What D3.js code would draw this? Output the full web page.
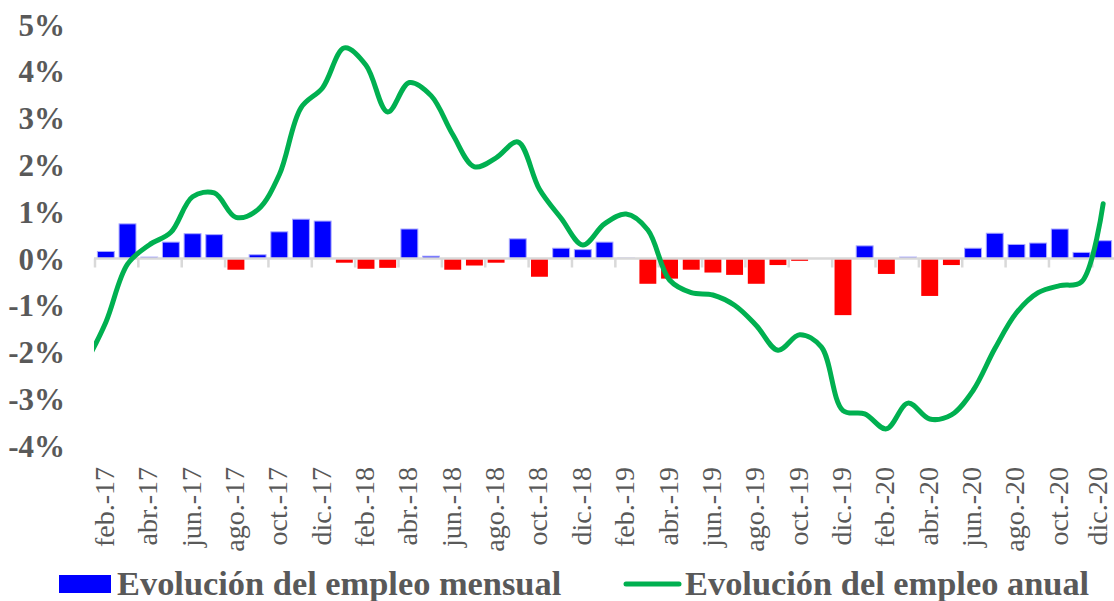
<!DOCTYPE html>
<html><head><meta charset="utf-8">
<script src="https://cdn.jsdelivr.net/npm/d3@7"></script>
<style>body{margin:0;background:#fff}</style>
</head><body>
<svg id="c" width="1114" height="601"></svg>
<script>
const months = ["ene.-17","feb.-17","mar.-17","abr.-17","may.-17","jun.-17","jul.-17","ago.-17","sep.-17","oct.-17","nov.-17","dic.-17",
"ene.-18","feb.-18","mar.-18","abr.-18","may.-18","jun.-18","jul.-18","ago.-18","sep.-18","oct.-18","nov.-18","dic.-18",
"ene.-19","feb.-19","mar.-19","abr.-19","may.-19","jun.-19","jul.-19","ago.-19","sep.-19","oct.-19","nov.-19","dic.-19",
"ene.-20","feb.-20","mar.-20","abr.-20","may.-20","jun.-20","jul.-20","ago.-20","sep.-20","oct.-20","nov.-20","dic.-20"];
// monthly employment change (%), no bar for ene.-17
const mensual = [null,0.15,0.74,0.03,0.35,0.53,0.51,-0.24,0.08,0.57,0.84,0.80,
-0.09,-0.22,-0.20,0.63,0.05,-0.24,-0.15,-0.09,0.42,-0.39,0.22,0.19,
0.35,0.01,-0.54,-0.43,-0.24,-0.30,-0.35,-0.54,-0.14,-0.05,0.00,-1.21,
0.27,-0.33,0.03,-0.80,-0.14,0.22,0.54,0.30,0.33,0.63,0.13,0.38];
// annual employment change (%)
const anual = [-2.30,-1.36,-0.12,0.29,0.56,1.32,1.40,0.88,1.04,1.79,3.22,3.65,
4.50,4.13,3.13,3.76,3.48,2.65,1.96,2.15,2.49,1.48,0.86,0.29,
0.74,0.95,0.61,-0.46,-0.73,-0.78,-1.00,-1.43,-1.96,-1.63,-1.89,-3.25,
-3.32,-3.64,-3.09,-3.43,-3.34,-2.82,-1.93,-1.16,-0.73,-0.58,-0.50,1.17];
const yTicks = [-4,-3,-2,-1,0,1,2,3,4,5];
const xTickLabels = months.filter((m,i)=>i%2===1);
const legendLabels = ["Evolución del empleo mensual","Evolución del empleo anual"];

const svg = d3.select("#c");
const left = 95, right = 1114;
const step = (right-left)/47;
const x = d3.scaleBand().domain(months).range([left-step, right]).paddingInner(0.22).paddingOuter(0.11);
const y0 = 258.5, pp = 46.8;
const y = d3.scaleLinear().domain([-4,5]).range([y0+4*pp, y0-5*pp]);
const grey = "#595959";
const font = "'Liberation Serif','Times New Roman',serif";

// bars
svg.append("g").selectAll("rect")
  .data(months.map((m,i)=>({m, v:mensual[i]})).filter(d=>d.v!==null))
  .join("rect")
  .attr("x", d=>x(d.m))
  .attr("width", x.bandwidth())
  .attr("y", d=>y(Math.max(0,d.v)))
  .attr("height", d=>Math.abs(y(d.v)-y(0)))
  .attr("fill", d=>d.v<0?"#ff0000":"#0000ff")
  .attr("stroke", d=>d.v<0?"none":"#a8a8ff")
  .attr("stroke-width", 1);

// x axis line and ticks
const ax = svg.append("g").attr("stroke","#d9d9d9").attr("stroke-width",2.5);
ax.append("line").attr("x1",left-1).attr("x2",right).attr("y1",y(0)).attr("y2",y(0));
ax.selectAll("line.t").data(xTickLabels).join("line").attr("class","t")
  .attr("x1", d=>x(d)-step*0.11).attr("x2", d=>x(d)-step*0.11)
  .attr("y1", y(0)).attr("y2", y(0)+9);

// line
svg.append("clipPath").attr("id","clip").append("rect")
  .attr("x",left-1).attr("y",0).attr("width",right-left+1).attr("height",601);
const line = d3.line()
  .x((d,i)=>x(months[i])+x.bandwidth()/2)
  .y(d=>y(d))
  .curve(d3.curveCatmullRom.alpha(0.5));
svg.append("path").attr("d", line(anual)).attr("clip-path","url(#clip)")
  .attr("fill","none").attr("stroke","#00b050").attr("stroke-width",5)
  .attr("stroke-linecap","round").attr("stroke-linejoin","round");

// y labels
svg.append("g").selectAll("text").data(yTicks).join("text")
  .attr("x",65).attr("y",d=>y(d)).attr("dy","0.36em")
  .attr("text-anchor","end").attr("font-family",font).attr("font-weight","bold")
  .attr("font-size",31).attr("fill",grey).text(d=>d+"%");

// x labels (last one kept inside the canvas)
svg.append("g").selectAll("text").data(xTickLabels).join("text")
  .attr("transform", d=>`translate(${Math.min(x(d)+x.bandwidth()/2+8, right-7)},467) rotate(-90)`)
  .attr("text-anchor","end").attr("font-family",font)
  .attr("font-size",28).attr("fill",grey).text(d=>d);

// legend
const lg = svg.append("g").attr("font-family",font).attr("font-weight","bold").attr("font-size",34.4).attr("fill",grey);
svg.append("rect").attr("x",59).attr("y",575).attr("width",52).attr("height",18).attr("fill","#0000ff");
lg.append("text").attr("x",117).attr("y",595).text(legendLabels[0]);
svg.append("line").attr("x1",626).attr("x2",679).attr("y1",584).attr("y2",584)
  .attr("stroke","#00b050").attr("stroke-width",5).attr("stroke-linecap","round");
lg.append("text").attr("x",685).attr("y",595).text(legendLabels[1]);
</script>
</body></html>
